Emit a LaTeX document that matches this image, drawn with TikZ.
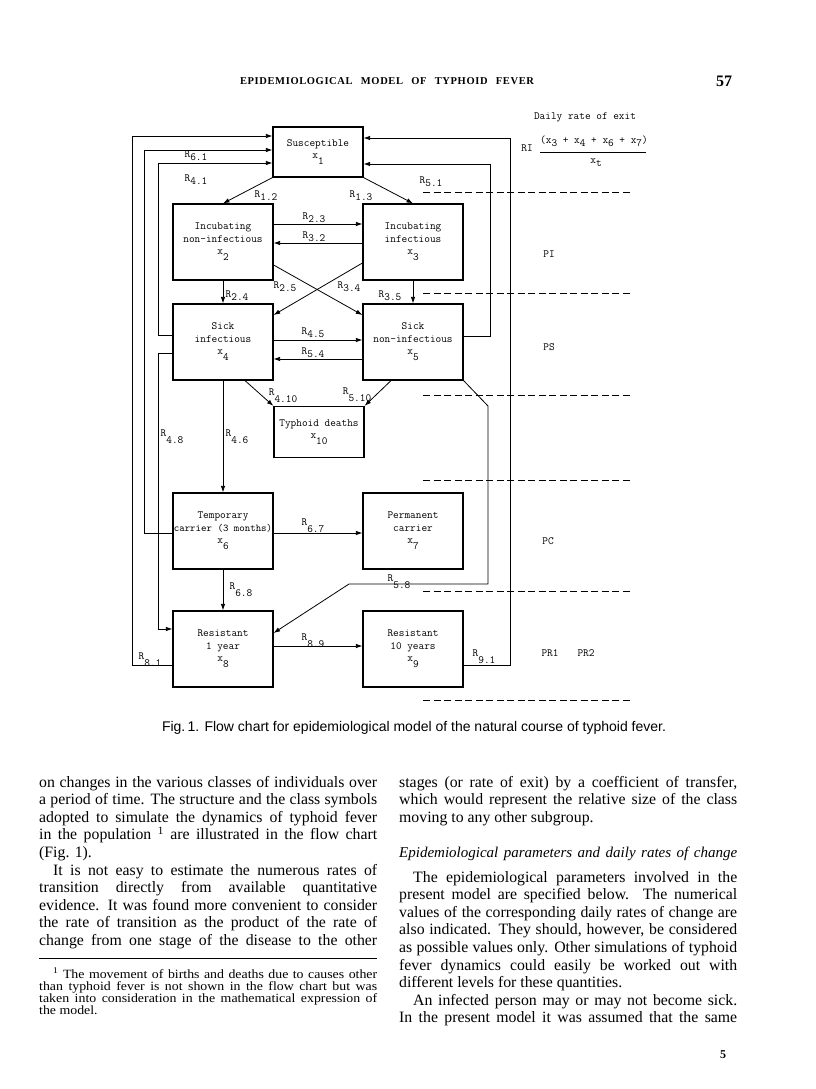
\documentclass[tikz,border=0pt]{standalone}
\usepackage{fontspec}
\setmainfont{Liberation Serif}
\newfontfamily\capfont{Liberation Sans}
\newfontfamily\footserif[FakeStretch=1.1]{Liberation Serif}
\usetikzlibrary{arrows.meta}
\newcommand\chartfont{\fontsize{11}{12.5}\selectfont\ttfamily}
\newcommand\bodyfont{\fontsize{15.8}{17.6}\selectfont}
\newcommand\footfont{\footserif\fontsize{12.6}{12}\selectfont}
\newcommand\xs[1]{x\raisebox{-6pt}{#1}}
\newcommand\xf[1]{x\raisebox{-3pt}{#1}}
\newcommand\Rl[1]{R\raisebox{-3pt}{#1}}
\newcommand\Rh[1]{\raisebox{2pt}{R}\raisebox{-5pt}{#1}}
\newcommand\J[1]{\makebox[338pt][s]{#1}}
\newcommand\FJ[1]{\makebox[338pt][s]{#1}}
\begin{document}
\begin{tikzpicture}[x=1pt,y=-1pt,
  box/.style={draw, line width=1.2pt, inner sep=0pt, align=center, font=\chartfont, minimum width=100pt, minimum height=76pt},
  arr/.style={line width=0.8pt, -{Latex[length=6.5pt,width=4.5pt]}},
  ln/.style={line width=0.8pt},
  lab/.style={font=\chartfont, inner sep=0pt},
  dline/.style={line width=1pt, dash pattern=on 7pt off 3.5pt},
  body/.style={anchor=base west, inner sep=0pt, font=\bodyfont},
  foot/.style={anchor=base west, inner sep=0pt, font=\footfont}]
\useasboundingbox[fill=white] (0,0) rectangle (816,1089);

% header
\node[anchor=base, inner sep=0pt] (hdr) at (387,85) {\fontsize{10.5}{12}\selectfont\bfseries\addfontfeature{LetterSpace=6}EPIDEMIOLOGICAL\hspace{5pt} MODEL\hspace{5pt} OF\hspace{5pt} TYPHOID\hspace{5pt} FEVER};
\node[anchor=base, inner sep=0pt] (pg) at (724,87) {\fontsize{16}{18}\selectfont\bfseries 57};

% boxes
\node[box, minimum width=90pt, minimum height=50pt] (x1) at (318,152) {Susceptible\\\xs{1}};
\node[box] (x2) at (223,242) {Incubating\\non-infectious\\\xs{2}};
\node[box] (x3) at (413,242) {Incubating\\infectious\\\xs{3}};
\node[box] (x4) at (223,342) {Sick\\infectious\\\xs{4}};
\node[box] (x5) at (413,342) {Sick\\non-infectious\\\xs{5}};
\node[box, minimum width=90pt, minimum height=51pt] (x10) at (319,432) {Typhoid deaths\\\xs{10}};
\node[box] (x6) at (223,531) {Temporary\\{\fontsize{10.4}{12.5}\selectfont carrier (3 months)}\\\xs{6}};
\node[box] (x7) at (413,531) {Permanent\\carrier\\\xs{7}};
\node[box] (x8) at (223,649) {Resistant\\1 year\\\xs{8}};
\node[box] (x9) at (413,649) {Resistant\\10 years\\\xs{9}};

% long return lines
\coordinate (c81a) at (132,665); \coordinate (c81b) at (132,136);
\draw[arr] (x8.west |- c81a) -- (c81a) -- (c81b) -- (x1.west |- c81b);
\coordinate (c61a) at (144,533); \coordinate (c61b) at (144,150);
\draw[arr] (x6.west |- c61a) -- (c61a) -- (c61b) -- (x1.west |- c61b);
\coordinate (c41a) at (158,335); \coordinate (c41b) at (158,163);
\draw[arr] (x4.west |- c41a) -- (c41a) -- (c41b) -- (x1.west |- c41b);
\coordinate (c48a) at (158,353); \coordinate (c48b) at (158,629);
\draw[arr] (x4.west |- c48a) -- (c48a) -- (c48b) -- (x8.west |- c48b);
\coordinate (c51a) at (490,336); \coordinate (c51b) at (490,164);
\draw[arr] (x5.east |- c51a) -- (c51a) -- (c51b) -- (x1.east |- c51b);
\coordinate (c91a) at (510,665); \coordinate (c91b) at (510,138);
\draw[arr] (x9.east |- c91a) -- (c91a) -- (c91b) -- (x1.east |- c91b);
\coordinate (c58a) at (488,406); \coordinate (c58b) at (488,584);
\coordinate (c58c) at (349,584); \coordinate (c58d) at (274,633);
\draw[arr] (x5.south east) -- (c58a) -- (c58b) -- (c58c) -- (x8.east |- c58d);

% direct arrows
\draw[arr] (x1.south west) -- (x2.north);
\draw[arr] (x1.south east) -- (x3.north);
\draw[arr] ([yshift=18pt]x2.east) -- ([yshift=18pt]x3.west);
\draw[arr] ([yshift=-1pt]x3.west) -- ([yshift=-1pt]x2.east);
\draw[arr] ([yshift=-23pt]x2.east) -- ([yshift=27pt]x5.west);
\draw[arr] ([yshift=-21pt]x3.west) -- ([yshift=27pt]x4.east);
\draw[arr] (x2.south) -- (x4.north);
\draw[arr] (x3.south) -- (x5.north);
\draw[arr] ([yshift=2pt]x4.east) -- ([yshift=2pt]x5.west);
\draw[arr] ([yshift=-17pt]x5.west) -- ([yshift=-17pt]x4.east);
\draw[arr] ([xshift=22pt]x4.south) -- (x10.north west);
\draw[arr] ([xshift=-22pt]x5.south) -- (x10.north east);
\draw[arr] (x4.south) -- (x6.north);
\draw[arr] ([yshift=-2pt]x6.east) -- ([yshift=-2pt]x7.west);
\draw[arr] (x6.south) -- (x8.north);
\draw[arr] ([yshift=3pt]x8.east) -- ([yshift=3pt]x9.west);

% rate labels
\node[lab] (l61) at (196,156) {\Rl{6.1}};
\node[lab] (l41) at (196,180) {\Rl{4.1}};
\node[lab] (l12) at (266,196) {\Rl{1.2}};
\node[lab] (l13) at (361,196) {\Rl{1.3}};
\node[lab] (l51) at (431,182) {\Rl{5.1}};
\node[lab] (l23) at (314,218) {\Rl{2.3}};
\node[lab] (l32) at (314,237) {\Rl{3.2}};
\node[lab] (l25) at (285,287) {\Rl{2.5}};
\node[lab] (l34) at (349,287) {\Rl{3.4}};
\node[lab] (l24) at (237,296) {\Rl{2.4}};
\node[lab] (l35) at (390,296) {\Rl{3.5}};
\node[lab] (l45) at (313,333) {\Rl{4.5}};
\node[lab] (l54) at (313,353) {\Rl{5.4}};
\node[lab] (l410) at (283,396) {\Rh{4.10}};
\node[lab] (l510) at (357,395) {\Rh{5.10}};
\node[lab] (l48) at (172,437) {\Rh{4.8}};
\node[lab] (l46) at (237,437) {\Rh{4.6}};
\node[lab] (l67) at (313,526) {\Rh{6.7}};
\node[lab] (l68) at (241,590) {\Rh{6.8}};
\node[lab] (l58) at (399,582) {\Rh{5.8}};
\node[lab] (l81) at (150,660) {\Rh{8.1}};
\node[lab] (l89) at (313,641) {\Rh{8.9}};
\node[lab] (l91) at (484,657) {\Rh{9.1}};

% right-hand legend
\node[lab] (daily) at (585,117) {Daily rate of exit};
\node[lab] (ri) at (527,148) {RI};
\node[lab] (num) at (594,141) {(\xf{3} + \xf{4} + \xf{6} + \xf{7})};
\draw[line width=1pt] (540,152) -- (646,152);
\node[lab] (den) at (596,163) {\xf{t}};
\foreach \yy in {192,293,395,480,591,700} \draw[dline] (423,\yy) -- (633,\yy);
\node[lab] (pi) at (549,254) {PI};
\node[lab] (ps) at (549,347) {PS};
\node[lab] (pc) at (548,541) {PC};
\node[lab] (pr1) at (550,653) {PR1};
\node[lab] (pr2) at (586,653) {PR2};

% caption
\node[inner sep=0pt] (cap) at (414,728) {\capfont\fontsize{14}{16}\selectfont Fig.\,1. Flow chart for epidemiological model of the natural course of typhoid fever.};

% left column
\node[body] (a1) at (39,787) {\J{on changes in the various classes of individuals over}};
\node[body] (a2) at (39,804.6) {\J{a period of time. The structure and the class symbols}};
\node[body] (a3) at (39,822.2) {\J{adopted to simulate the dynamics of typhoid fever}};
\node[body] (a4) at (39,839.8) {\J{in the population \textsuperscript{1} are illustrated in the flow chart}};
\node[body] (a5) at (39,857.4) {(Fig. 1).};
\node[body] (a6) at (39,875) {\J{\hspace*{14pt}It is not easy to estimate the numerous rates of}};
\node[body] (a7) at (39,892.6) {\J{transition directly from available quantitative}};
\node[body] (a8) at (39,910.2) {\J{evidence. It was found more convenient to consider}};
\node[body] (a9) at (39,927.8) {\J{the rate of transition as the product of the rate of}};
\node[body] (a10) at (39,945.4) {\J{change from one stage of the disease to the other}};
\draw[line width=0.8pt] (39,958) -- (377,958);
\node[foot] (f1) at (39,978) {\FJ{\hspace*{14pt}\textsuperscript{1} The movement of births and deaths due to causes other}};
\node[foot] (f2) at (39,990) {\FJ{than typhoid fever is not shown in the flow chart but was}};
\node[foot] (f3) at (39,1002) {\FJ{taken into consideration in the mathematical expression of}};
\node[foot] (f4) at (39,1014) {the model.};

% right column
\node[body] (b1) at (399,787) {\J{stages (or rate of exit) by a coefficient of transfer,}};
\node[body] (b2) at (399,804.6) {\J{which would represent the relative size of the class}};
\node[body] (b3) at (399,822.2) {moving to any other subgroup.};
\node[body] (bh) at (399,857) {\J{\fontsize{15}{17.6}\selectfont\itshape Epidemiological parameters and daily rates of change}};
\node[body] (b4) at (399,882) {\J{\hspace*{14pt}The epidemiological parameters involved in the}};
\node[body] (b5) at (399,899.6) {\J{present model are specified below. The numerical}};
\node[body] (b6) at (399,917.2) {\J{values of the corresponding daily rates of change are}};
\node[body] (b7) at (399,934.8) {\J{also indicated. They should, however, be considered}};
\node[body] (b8) at (399,952.4) {\J{as possible values only. Other simulations of typhoid}};
\node[body] (b9) at (399,970) {\J{fever dynamics could easily be worked out with}};
\node[body] (b10) at (399,987.6) {different levels for these quantities.};
\node[body] (b11) at (399,1005.2) {\J{\hspace*{14pt}An infected person may or may not become sick.}};
\node[body] (b12) at (399,1022.8) {\J{In the present model it was assumed that the same}};
\node[anchor=base, inner sep=0pt] (pg5) at (723,1058) {\fontsize{12}{14}\selectfont\bfseries 5};
\end{tikzpicture}
\end{document}
